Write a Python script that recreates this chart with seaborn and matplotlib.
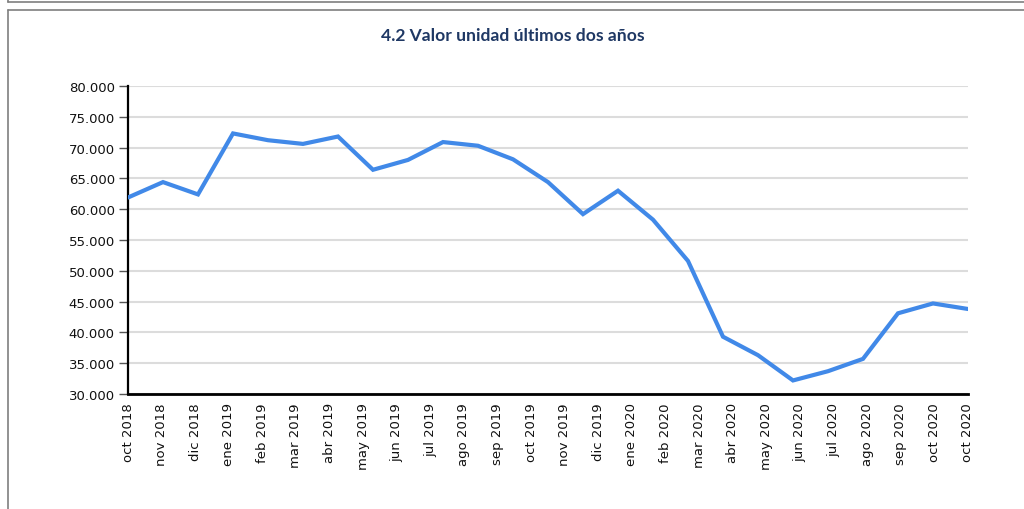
import numpy as np
import pandas as pd
import matplotlib
matplotlib.use("Agg")
import matplotlib.pyplot as plt
from matplotlib.ticker import FuncFormatter, FixedLocator
from matplotlib.lines import Line2D
import seaborn as sns

title = "4.2 Valor unidad últimos dos años"
tick_labels = ["oct 2018", "nov 2018", "dic 2018", "ene 2019", "feb 2019", "mar 2019",
               "abr 2019", "may 2019", "jun 2019", "jul 2019", "ago 2019", "sep 2019",
               "oct 2019", "nov 2019", "dic 2019", "ene 2020", "feb 2020", "mar 2020",
               "abr 2020", "may 2020", "jun 2020", "jul 2020", "ago 2020", "sep 2020",
               "oct 2020", "oct 2020"]
values = [61900, 64400, 62400, 72300, 71200, 70600, 71800, 66400, 68000, 70900,
          70300, 68100, 64400, 59200, 63000, 58300, 51600, 39300, 36300, 32200,
          33700, 35700, 43100, 44700, 43800]
y_ticks = [30000, 35000, 40000, 45000, 50000, 55000, 60000, 65000, 70000, 75000, 80000]

sns.set_theme(style="white")
plt.rcParams['font.family'] = ['DejaVu Sans']

df = pd.DataFrame({"idx": np.arange(len(values)), "valor": values})

fig = plt.figure(figsize=(10.24, 5.10), dpi=100)
ax = fig.add_axes([0.125, 0.2255, 0.8203, 0.6039])

ax.yaxis.grid(True, color="#dcdcdc", linewidth=1.5, zorder=0)
ax.set_axisbelow(True)
sns.lineplot(data=df, x="idx", y="valor", ax=ax, color="#4189e8", linewidth=3.0,
             zorder=3, solid_joinstyle="miter")

ax.set_xlim(0, len(values) - 1)
ax.set_ylim(y_ticks[0], y_ticks[-1])
ax.yaxis.set_major_locator(FixedLocator(y_ticks))
ax.yaxis.set_major_formatter(FuncFormatter(lambda v, p: f"{v:,.0f}".replace(",", ".")))
ax.xaxis.set_major_locator(FixedLocator(np.linspace(0, len(values) - 1, len(tick_labels))))
ax.set_xticklabels(tick_labels, rotation=90, fontsize=9.5, color="#111111")
ax.tick_params(axis="y", labelsize=9.5, labelcolor="#111111", length=6.5, width=1,
               color="#555555", left=True, pad=3)
ax.tick_params(axis="x", length=0, pad=6)
ax.set_xlabel("")
ax.set_ylabel("")

for s in ["top", "right"]:
    ax.spines[s].set_visible(False)
ax.spines["left"].set_color("black")
ax.spines["left"].set_linewidth(1.6)
ax.spines["bottom"].set_color("black")
ax.spines["bottom"].set_linewidth(2.0)

fig.text(0.501, 0.93, title, ha="center", va="center", fontsize=12.6,
         fontweight="bold", color="#1f3864", family=["Lato", "DejaVu Sans"])

W, H = 1024, 510
def fx(px): return px / W
def fy(py): return 1 - py / H
gray = "#7f7f7f"
fig.add_artist(Line2D([fx(8), 1.0], [fy(3), fy(3)], color=gray, linewidth=1.2))
fig.add_artist(Line2D([fx(8), fx(8)], [1.0, fy(3)], color=gray, linewidth=1.2))
fig.add_artist(Line2D([fx(8), 1.0], [fy(11), fy(11)], color=gray, linewidth=1.2))
fig.add_artist(Line2D([fx(8), fx(8)], [fy(11), 0.0], color=gray, linewidth=1.2))

fig.savefig("out.png", dpi=100)
